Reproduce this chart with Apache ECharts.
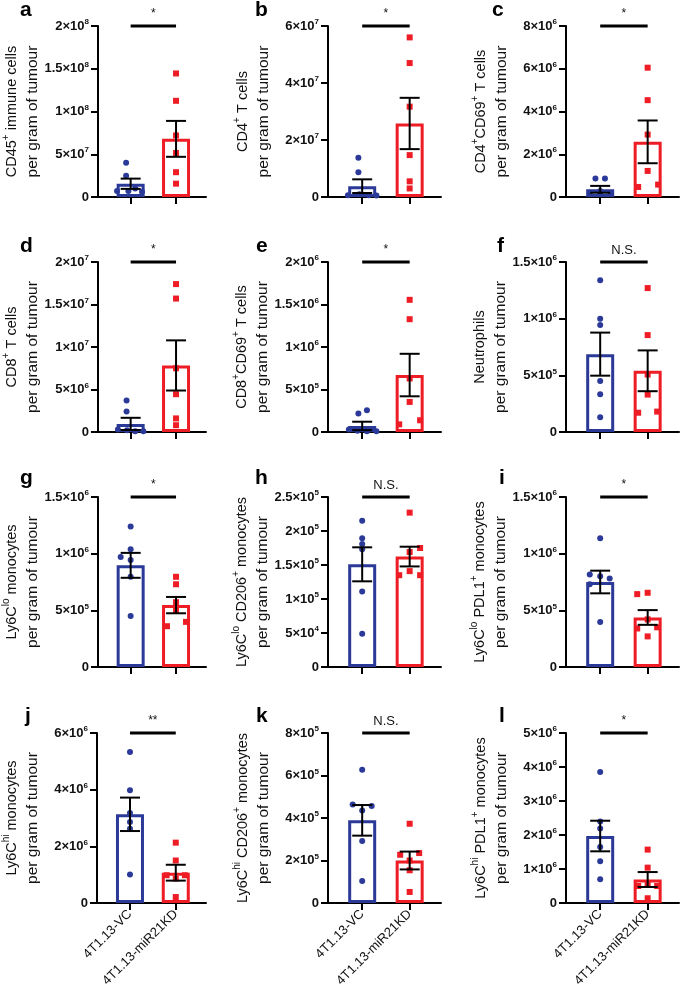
<!DOCTYPE html>
<html><head><meta charset="utf-8">
<script src="https://cdn.jsdelivr.net/npm/echarts@6/dist/echarts.min.js"></script>
<style>html,body{margin:0;padding:0;background:#fff}#c{width:680px;height:992px}</style>
</head><body><div id="c"></div>
<script>
// ---------- data ----------
const groups = ['4T1.13-VC', '4T1.13-miR21KD'];
const panelLetters = ['a','b','c','d','e','f','g','h','i','j','k','l'];
const titleLine1 = [
  'CD45{s|+}{l1| immune cells}',
  'CD4{s|+}{l1| T cells}',
  'CD4{s|+}{l1|CD69}{s|+}{l1| T cells}',
  'CD8{s|+}{l1| T cells}',
  'CD8{s|+}{l1|CD69}{s|+}{l1| T cells}',
  'Neutrophils',
  'Ly6C{s|lo}{l1| monocytes}',
  'Ly6C{s|lo}{l1| CD206}{s|+}{l1| monocytes}',
  'Ly6C{s|lo}{l1| PDL1}{s|+}{l1| monocytes}',
  'Ly6C{s|hi}{l1| monocytes}',
  'Ly6C{s|hi}{l1| CD206}{s|+}{l1| monocytes}',
  'Ly6C{s|hi}{l1| PDL1}{s|+}{l1| monocytes}'
];
const titleLine2 = 'per gram of tumour';
const yMax  = [2e8, 6e7, 8e6, 2e7, 2e6, 1.5e6, 1.5e6, 2.5e5, 1.5e6, 6e6, 8e5, 5e6];
const yStep = [5e7, 2e7, 2e6, 5e6, 5e5, 5e5,   5e5,   5e4,   5e5,   2e6, 2e5, 1e6];
const significance = ['*','*','*','*','*','N.S.','*','N.S.','*','**','N.S.','*'];

const meanVC = [1.55e7, 3.8e6, 3.6e5, 9.5e5, 7.1e4, 6.87e5, 8.97e5, 1.51e5, 7.5e5, 3.13e6, 3.89e5, 1.97e6];
const semVC  = [6.0e6,  2.4e6, 1.6e5, 7.2e5, 5.0e4, 1.9e5,  1.1e5,  2.5e4,  1.0e5, 5.9e5,  7.2e4,  4.5e5];
const meanKD = [6.8e7,  2.58e7, 2.58e6, 7.83e6, 6.7e5, 5.4e5, 5.46e5, 1.624e5, 4.37e5, 1.07e6, 2.0e5, 6.9e5];
const semKD  = [2.1e7,  9.0e6,  1.0e6,  2.95e6, 2.5e5, 1.8e5, 7.2e4,  1.45e4,  6.5e4,  2.8e5,  4.2e4, 2.2e5];

const pointsVC = [
  [4.0e7, 2.5e7, 1.0e7, 7e6, 7e6, 6e6],
  [1.38e7, 8.7e6, 1.0e6, 6e5, 6e5, 5e5],
  [8.6e5, 8.6e5, 2.8e5, 2.0e5, 1.5e5, 1.5e5],
  [3.7e6, 2.4e6, 3e5, 2e5, 1e5, 1e5],
  [2.56e5, 2.17e5, 3e4, 1.5e4, 1e4, 1e4],
  [1.34e6, 1.0e6, 9.44e5, 4.5e5, 3.33e5, 1.3e5],
  [1.24e6, 1.04e6, 9.7e5, 9.44e5, 7.96e5, 4.5e5],
  [2.15e5, 1.895e5, 1.81e5, 1.73e5, 1.11e5, 4.9e4],
  [1.136e6, 8.17e5, 8.0e5, 7.8e5, 7.3e5, 3.98e5],
  [5.33e6, 3.98e6, 3.18e6, 2.86e6, 2.62e6, 1.01e6],
  [6.27e5, 4.63e5, 4.56e5, 4.35e5, 2.92e5, 1.04e5],
  [3.85e6, 2.4e6, 2.19e6, 1.65e6, 1.23e6, 7.0e5]
];
const pointsKD = [
  [1.445e8, 1.125e8, 7.2e7, 5.15e7, 2.9e7, 1.56e7],
  [5.6e7, 4.7e7, 3.17e7, 1.47e7, 5.5e6, 3.0e6],
  [6.05e6, 4.53e6, 2.92e6, 1.22e6, 5.8e5, 4.7e5],
  [1.74e7, 1.57e7, 7.5e6, 4.45e6, 1.6e6, 8e5],
  [1.555e6, 1.327e6, 6.3e5, 3.54e5, 1.38e5, 9e4],
  [1.27e6, 8.55e5, 5.07e5, 3.3e5, 1.8e5, 1.7e5],
  [7.96e5, 7.3e5, 5.72e5, 5.0e5, 3.98e5, 3.6e5],
  [2.27e5, 1.75e5, 1.69e5, 1.41e5, 1.35e5, 1.35e5],
  [6.55e5, 6.43e5, 4.2e5, 3.5e5, 3.4e5, 2.7e5],
  [2.13e6, 1.5e6, 9.8e5, 9.8e5, 8.6e5, 2.1e5],
  [3.73e5, 2.35e5, 2.27e5, 2.0e5, 1.54e5, 5.2e4],
  [1.57e6, 1.04e6, 5.5e5, 5.0e5, 5.0e5, 1.4e5]
];
// horizontal scatter spread of points (category units)
const jitterVC = [
  [-0.1,-0.1,0.1,-0.3,-0.05,0.25],
  [-0.08,-0.08,-0.06,-0.3,0.14,0.3],
  [-0.1,0.1,0,-0.22,0,0.22],
  [-0.09,-0.09,-0.28,-0.08,0.1,0.28],
  [0.1,-0.08,-0.28,-0.1,0.1,0.3],
  [0,0,0,0,0,0],
  [0,0,-0.22,0,0,0],
  [0,0,0,0,0,0],
  [0,-0.22,0,0.2,-0.22,0],
  [0,0,0,0,0,0],
  [0,-0.2,0.2,0,0,0],
  [0,0,0,0,0,0]
];
const jitterKD = [
  [0,0,0,0,0,0],
  [0,0,0,0,0,0],
  [0,0,0,0,0.22,-0.2],
  [0,0,0,0,0,0],
  [0,0,0,0,0.22,-0.22],
  [0,0,0,0,0.2,-0.2],
  [0,0,0,0,0.22,-0.2],
  [0,0.22,0,0,-0.22,0.22],
  [0,-0.22,0,0.2,-0.22,0],
  [0,0,-0.2,0.2,0,0],
  [0,0.2,-0.2,0,0,0],
  [0,0,0,-0.2,0.2,0]
];

// ---------- layout ----------
const BLUE = '#2B3A98', RED = '#EE1C25';
const FONT = 'Liberation Sans';
const colLeft = [93, 328, 566];
const rowTop = [26, 262, 497, 733];
const rowH = [171, 170, 170, 170];
const gridW = 113;
const letterPos = [[20,0],[255,0],[492,0],[20,236],[256,236],[497,236],[20,468],[255,468],[499,468],[25,706],[256,706],[499,706]];

function sciLabel(v) {
  if (v === 0) return '{b|0}';
  const e = Math.floor(Math.log10(v) + 1e-9);
  const m = Math.round(v / Math.pow(10, e) * 10) / 10;
  return '{b|' + m + '×10}{s|' + e + '}';
}

const grids = [], xAxes = [], yAxes = [], series = [], titles = [];
for (let i = 0; i < 12; i++) {
  const r = Math.floor(i / 3), c = i % 3;
  grids.push({left: colLeft[c], top: rowTop[r], width: gridW, height: rowH[r]});
  titles.push({text: panelLetters[i], left: letterPos[i][0], top: letterPos[i][1], padding: 0,
    textStyle: {fontFamily: FONT, fontSize: 21, fontWeight: 'bold', color: '#000'}});
  xAxes.push({
    gridIndex: i, type: 'value', min: -0.72, max: 1.66,
    splitLine: {show: false},
    axisLine: {show: true, onZero: false, lineStyle: {color: '#000', width: 2}},
    axisTick: {show: true, customValues: [0, 1], length: 7, lineStyle: {color: '#000', width: 2}},
    axisLabel: {show: r === 3, customValues: [0, 1], rotate: 45, margin: 9,
      formatter: v => groups[Math.round(v)], fontFamily: FONT, fontSize: 13, color: '#111'}
  });
  const l1 = titleLine1[i];
  const firstBrace = l1.indexOf('{');
  const nameStr = (firstBrace < 0 ? '{l1|' + l1 + '}' : '{l1|' + l1.slice(0, firstBrace) + '}' + l1.slice(firstBrace))
    + '\n{l2|' + titleLine2 + '}';
  yAxes.push({
    gridIndex: i, type: 'value', min: 0, max: yMax[i], interval: yStep[i],
    splitLine: {show: false},
    axisLine: {show: true, onZero: false, lineStyle: {color: '#000', width: 2}},
    axisTick: {show: true, length: 7, lineStyle: {color: '#000', width: 2}},
    axisLabel: {margin: 9, formatter: sciLabel, color: '#111',
      rich: {
        b: {fontFamily: FONT, fontSize: 13, fontWeight: 'bold', color: '#111', lineHeight: 16},
        s: {fontFamily: FONT, fontSize: 8, fontWeight: 'bold', color: '#111', lineHeight: 8, verticalAlign: 'top'}
      }},
    name: nameStr,
    nameLocation: 'middle', nameGap: 54, nameRotate: 90,
    nameTextStyle: {color: '#111', fontFamily: FONT,
      rich: {
        l1: {fontFamily: FONT, fontSize: 14.5, color: '#111', lineHeight: 21},
        l2: {fontFamily: FONT, fontSize: 15.5, color: '#111', lineHeight: 21},
        s: {fontFamily: FONT, fontSize: 10, color: '#111', lineHeight: 10, verticalAlign: 'top'}
      }}
  });

  series.push({
    type: 'bar', xAxisIndex: i, yAxisIndex: i, barWidth: 28, z: 2,
    itemStyle: {color: '#fff', borderWidth: 3},
    data: [
      {value: [0, meanVC[i]], itemStyle: {borderColor: BLUE}},
      {value: [1, meanKD[i]], itemStyle: {borderColor: RED}}
    ]
  });
  series.push({
    type: 'scatter', xAxisIndex: i, yAxisIndex: i, symbol: 'circle', symbolSize: 6, z: 3,
    itemStyle: {color: BLUE, opacity: 1},
    data: pointsVC[i].map((v, k) => [0 + jitterVC[i][k], v])
  });
  series.push({
    type: 'scatter', xAxisIndex: i, yAxisIndex: i, symbol: 'rect', symbolSize: 6, z: 3,
    itemStyle: {color: RED, opacity: 1},
    data: pointsKD[i].map((v, k) => [1 + jitterKD[i][k], v])
  });
  series.push({
    type: 'custom', xAxisIndex: i, yAxisIndex: i, z: 4,
    data: [[0, meanVC[i], semVC[i]], [1, meanKD[i], semKD[i]]],
    renderItem: function (params, api) {
      const x = api.value(0), m = api.value(1), s = api.value(2);
      const t = api.coord([x, m + s]), b = api.coord([x, m - s]);
      const hw = 10, st = {stroke: '#000', lineWidth: 2};
      return {type: 'group', children: [
        {type: 'line', shape: {x1: t[0], y1: t[1], x2: b[0], y2: b[1]}, style: st},
        {type: 'line', shape: {x1: t[0] - hw, y1: t[1], x2: t[0] + hw, y2: t[1]}, style: st},
        {type: 'line', shape: {x1: b[0] - hw, y1: b[1], x2: b[0] + hw, y2: b[1]}, style: st}
      ]};
    }
  });
  const sig = significance[i];
  series.push({
    type: 'custom', xAxisIndex: i, yAxisIndex: i, z: 5,
    data: [[0, yMax[i], 1]],
    renderItem: function (params, api) {
      const p0 = api.coord([api.value(0), api.value(1)]);
      const p1 = api.coord([api.value(2), api.value(1)]);
      const star = sig.indexOf('*') >= 0;
      return {type: 'group', children: [
        {type: 'line', shape: {x1: p0[0], y1: p0[1], x2: p1[0], y2: p1[1]}, style: {stroke: '#000', lineWidth: 3}},
        {type: 'text', x: (p0[0] + p1[0]) / 2, y: p0[1] - (star ? 6 : 5),
          style: {text: sig, fill: '#111', fontFamily: FONT, fontSize: star ? 12 : 13,
            align: 'center', verticalAlign: 'bottom'}}
      ]};
    }
  });
}

const chart = echarts.init(document.getElementById('c'), null, {renderer: 'canvas'});
chart.setOption({
  animation: false,
  backgroundColor: '#fff',
  title: titles,
  grid: grids,
  xAxis: xAxes,
  yAxis: yAxes,
  series: series
});
</script>
</body></html>
